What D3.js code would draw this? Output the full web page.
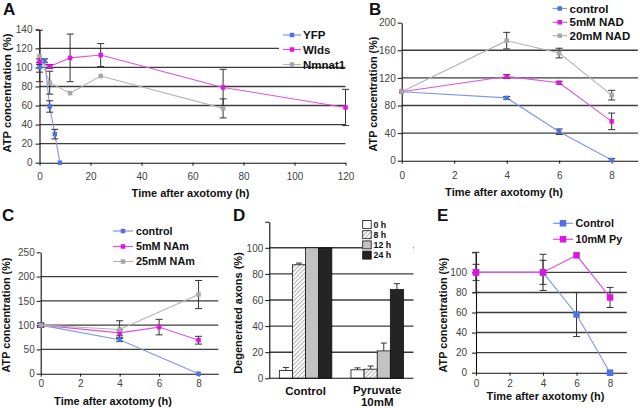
<!DOCTYPE html>
<html><head><meta charset="utf-8">
<script src="https://cdn.jsdelivr.net/npm/d3@7"></script>
<style>body{margin:0;background:#fff}svg{display:block}</style>
</head><body>
<script>
// ---------------- DATA ----------------
// Panel A
const aYFPTimes = [0, 2, 4, 6, 8];
const aYFP = [100, 107, 59, 30, 0];
const aYFPErr = [5, 2, 6, 5, 0];
const aWldsTimes = [0, 4, 12, 24, 72, 120];
const aWlds = [106, 101, 110, 113, 79, 58];
const aWldsErr = [3, 2, 25, 12, 19, 19];
const aNmnatTimes = [0, 4, 12, 24, 72];
const aNmnat = [112, 84, 73, 91, 57];
const aNmnatErr = [27, 12, 0, 0, 10];
const aXTicks = [0, 20, 40, 60, 80, 100, 120];
const aYTicks = [0, 20, 40, 60, 80, 100, 120, 140];

// Panel B
const bTimes = [0, 4, 6, 8];
const bControl = [100, 91, 42, 1];
const bControlErr = [0, 2, 4, 2];
const bNAD5 = [100, 122, 113, 57];
const bNAD5Err = [0, 3, 2, 12];
const bNAD20 = [100, 174, 156, 95];
const bNAD20Err = [0, 12, 7, 7];
const bXTicks = [0, 2, 4, 6, 8];
const bYTicks = [0, 40, 80, 120, 160, 200];

// Panel C
const cControlTimes = [0, 4, 8];
const cControl = [100, 70, 0];
const cControlErr = [4, 4, 0];
const cNAm5Times = [0, 4, 6, 8];
const cNAm5 = [100, 84, 96, 69];
const cNAm5Err = [4, 6, 16, 8];
const cNAm25Times = [0, 4, 8];
const cNAm25 = [100, 91, 163];
const cNAm25Err = [4, 18, 29];
const cXTicks = [0, 2, 4, 6, 8];
const cYTicks = [0, 50, 100, 150, 200, 250];

// Panel D
const dGroups = ["Control", "Pyruvate 10mM"];
const dTimes = ["0 h", "8 h", "12 h", "24 h"];
const dControl = [6, 87, 100, 100];
const dControlErr = [2.3, 1.3, 0, 0];
const dPyruvate = [6.5, 7, 21, 68];
const dPyruvateErr = [1.5, 2.4, 6, 4.5];
const dYTicks = [0, 20, 40, 60, 80, 100, 120];

// Panel E
const eTimes = [0, 4, 6, 8];
const eControl = [100, 100, 58, 0];
const eControlErr = [8, 18, 22, 0];
const ePy = [100, 100, 117, 75];
const ePyErr = [20, 12, 0, 10];
const eXTicks = [0, 2, 4, 6, 8];
const eYTicks = [0, 20, 40, 60, 80, 100, 120];

// ---------------- STYLE ----------------
const FONT = "'Liberation Sans', Arial, Helvetica, sans-serif";
const BLUE = "#4f72e3", BLUE_L = "#7d97ea";
const MAG = "#e014e0", MAG_L = "#e050e0";
const GRAY = "#a6a6a6", GRAY_L = "#b4b4b4";
const GRID = "#3c3c3c";

const svg = d3.select("body").append("svg").attr("width", 640).attr("height", 408)
  .style("font-family", FONT);

const defs = svg.append("defs");
const pat = defs.append("pattern").attr("id", "hatch").attr("patternUnits", "userSpaceOnUse")
  .attr("width", 3).attr("height", 3).attr("patternTransform", "rotate(45)");
pat.append("rect").attr("width", 3).attr("height", 3).attr("fill", "#fff");
pat.append("line").attr("x1", 0).attr("y1", 0).attr("x2", 0).attr("y2", 3)
  .attr("stroke", "#7a7a7a").attr("stroke-width", 1.2);

function styleAxis(sel, fs) {
  sel.select(".domain").attr("stroke", "#111").attr("stroke-width", 1.1);
  sel.selectAll(".tick line").attr("stroke", "#111");
  sel.selectAll(".tick text").attr("fill", "#444").style("font-size", fs + "px").style("font-family", FONT);
}

function label(t, x, y) {
  svg.append("text").attr("x", x).attr("y", y).text(t)
    .style("font-size", "17px").style("font-weight", "bold").attr("fill", "#111");
}
function yTitle(t, cx, cy, fs) {
  svg.append("text").attr("transform", `translate(${cx},${cy}) rotate(-90)`)
    .attr("text-anchor", "middle").attr("dy", "0.35em").text(t)
    .style("font-size", fs + "px").style("font-weight", "bold").attr("fill", "#111");
}
function xTitle(t, cx, by, fs) {
  svg.append("text").attr("x", cx).attr("y", by).attr("text-anchor", "middle").text(t)
    .style("font-size", fs + "px").style("font-weight", "bold").attr("fill", "#111");
}

function linePanel(o) {
  const g = svg.append("g");
  const x = d3.scaleLinear().domain(o.xDomain).range(o.xRange);
  const y = d3.scaleLinear().domain(o.yDomain).range(o.yRange);
  g.selectAll("line.grid").data(o.grid).join("line").attr("class", "grid")
    .attr("x1", o.xRange[0]).attr("x2", o.gridEnd || o.xRange[1])
    .attr("y1", d => y(d)).attr("y2", d => y(d))
    .attr("stroke", GRID).attr("stroke-width", 1.4);
  if (o.legendBg) {
    g.append("rect").attr("x", o.legendBg[0]).attr("y", o.legendBg[1])
      .attr("width", o.legendBg[2]).attr("height", o.legendBg[3]).attr("fill", "#fff");
  }
  const ya = g.append("g").attr("transform", `translate(${o.xRange[0]},0)`)
    .call(d3.axisLeft(y).tickValues(o.yTicks).tickSize(4).tickSizeOuter(0).tickPadding(o.yPad)
      .tickFormat(d => (o.yLabelMax === undefined || d <= o.yLabelMax) ? d : ""));
  styleAxis(ya, o.tickFs);
  const xa = g.append("g").attr("transform", `translate(0,${o.yRange[0]})`)
    .call(d3.axisBottom(x).tickValues(o.xTicks).tickSize(3).tickSizeOuter(0).tickPadding(o.xPad));
  styleAxis(xa, o.tickFs);

  o.series.forEach(s => {
    const pts = s.xs.map((t, i) => ({ t, v: s.ys[i], e: s.err[i] }));
    g.append("path").datum(pts)
      .attr("d", d3.line().x(d => x(d.t)).y(d => y(d.v)))
      .attr("fill", "none").attr("stroke", s.line).attr("stroke-width", 1.1);
    const eb = g.append("g");
    pts.filter(d => d.e > 0).forEach(d => {
      const cx = x(d.t), cw = o.cap;
      eb.append("line").attr("x1", cx).attr("x2", cx).attr("y1", y(d.v - d.e)).attr("y2", y(d.v + d.e));
      eb.append("line").attr("x1", cx - cw).attr("x2", cx + cw).attr("y1", y(d.v + d.e)).attr("y2", y(d.v + d.e));
      eb.append("line").attr("x1", cx - cw).attr("x2", cx + cw).attr("y1", y(d.v - d.e)).attr("y2", y(d.v - d.e));
    });
    eb.selectAll("line").attr("stroke", "#333").attr("stroke-width", 1);
    s.pts = pts;
  });
  o.series.forEach(s => {
    g.selectAll(null).data(s.pts).join("rect")
      .attr("x", d => x(d.t) - o.ms / 2).attr("y", d => y(d.v) - o.ms / 2)
      .attr("width", o.ms).attr("height", o.ms).attr("fill", s.color);
  });
  // legend
  o.series.forEach((s, i) => {
    const ly = o.legend.ys[i];
    g.append("line").attr("x1", o.legend.x0).attr("x2", o.legend.x1).attr("y1", ly).attr("y2", ly)
      .attr("stroke", s.line).attr("stroke-width", 1.2);
    const mx = (o.legend.x0 + o.legend.x1) / 2;
    g.append("rect").attr("x", mx - o.ms / 2).attr("y", ly - o.ms / 2)
      .attr("width", o.ms).attr("height", o.ms).attr("fill", s.color);
    g.append("text").attr("x", o.legend.tx).attr("y", ly).attr("dy", "0.36em").text(s.name)
      .style("font-size", o.legend.fs + "px").style("font-weight", "bold").attr("fill", "#111");
  });
}

// ---------------- PANEL A ----------------
linePanel({
  xDomain: [0, 120], xRange: [39.5, 345.5], yDomain: [0, 140], yRange: [162.7, 29.3],
  grid: [20, 40, 60, 80, 100, 120], xTicks: aXTicks, yTicks: aYTicks,
  yPad: 3, xPad: 7, tickFs: 10, cap: 3.5, ms: 4.5,
  legendBg: [279, 28, 67, 30],
  series: [
    { name: "YFP", xs: aYFPTimes, ys: aYFP, err: aYFPErr, color: BLUE, line: BLUE_L },
    { name: "Wlds", xs: aWldsTimes, ys: aWlds, err: aWldsErr, color: MAG, line: MAG_L },
    { name: "Nmnat1", xs: aNmnatTimes, ys: aNmnat, err: aNmnatErr, color: GRAY, line: GRAY_L }
  ],
  legend: { x0: 283, x1: 301, tx: 303, ys: [35, 49.5, 64.5], fs: 11.5 }
});
label("A", 3, 15);
yTitle("ATP concentration (%)", 7, 93, 11.2);
xTitle("Time after axotomy (h)", 190.5, 197, 11);

// ---------------- PANEL B ----------------
linePanel({
  xDomain: [0, 9], xRange: [401.7, 637.9], yDomain: [0, 200], yRange: [160.7, 22.7],
  grid: [40, 80, 120, 160], xTicks: bXTicks, yTicks: bYTicks,
  yPad: 2, xPad: 8, tickFs: 10, cap: 3.5, ms: 4.5,
  series: [
    { name: "control", xs: bTimes, ys: bControl, err: bControlErr, color: BLUE, line: BLUE_L },
    { name: "5mM NAD", xs: bTimes, ys: bNAD5, err: bNAD5Err, color: MAG, line: MAG_L },
    { name: "20mM NAD", xs: bTimes, ys: bNAD20, err: bNAD20Err, color: GRAY, line: GRAY_L }
  ],
  legend: { x0: 552.5, x1: 567, tx: 569.5, ys: [8.5, 22.3, 35.7], fs: 11.5 }
});
label("B", 369, 15);
yTitle("ATP concentration (%)", 373.5, 94, 10.8);
xTitle("Time after axotomy (h)", 504, 196, 11);

// ---------------- PANEL C ----------------
linePanel({
  xDomain: [0, 9], xRange: [40.7, 218.3], yDomain: [0, 250], yRange: [373.7, 252.3],
  grid: [50, 100, 150, 200], xTicks: cXTicks, yTicks: cYTicks,
  yPad: 2, xPad: 3, tickFs: 10, cap: 3.5, ms: 4.5,
  series: [
    { name: "control", xs: cControlTimes, ys: cControl, err: cControlErr, color: BLUE, line: BLUE_L },
    { name: "5mM NAm", xs: cNAm5Times, ys: cNAm5, err: cNAm5Err, color: MAG, line: MAG_L },
    { name: "25mM NAm", xs: cNAm25Times, ys: cNAm25, err: cNAm25Err, color: GRAY, line: GRAY_L }
  ],
  legend: { x0: 113, x1: 133, tx: 136, ys: [231, 246.5, 261.5], fs: 10.8 }
});
label("C", 2, 221);
yTitle("ATP concentration (%)", 6.5, 315, 10.8);
xTitle("Time after axotomy (h)", 113, 405, 11);

// ---------------- PANEL D ----------------
(function () {
  const g = svg.append("g");
  const x0 = 269.3, xEnd = 413.5;
  const y = d3.scaleLinear().domain([0, 120]).range([378.3, 221.7]);
  const xb = d3.scaleBand().domain(dGroups).range([x0, xEnd]).paddingInner(0.267).paddingOuter(0.14);
  const xi = d3.scaleBand().domain(dTimes).range([0, xb.bandwidth()]);
  const fills = ["#ffffff", "url(#hatch)", "#c2c2c2", "#242424"];
  g.selectAll("line.grid").data([20, 40, 60, 80, 100]).join("line")
    .attr("x1", x0).attr("x2", xEnd).attr("y1", d => y(d)).attr("y2", d => y(d))
    .attr("stroke", GRID).attr("stroke-width", 1.4);
  const rows = [{ g: dGroups[0], v: dControl, e: dControlErr }, { g: dGroups[1], v: dPyruvate, e: dPyruvateErr }];
  rows.forEach(r => {
    dTimes.forEach((t, i) => {
      const bx = xb(r.g) + xi(t), bw = xi.bandwidth();
      if (r.e[i] > 0) {
        const cx = bx + bw / 2;
        g.append("line").attr("x1", cx).attr("x2", cx).attr("y1", y(r.v[i])).attr("y2", y(r.v[i] + r.e[i]))
          .attr("stroke", "#333");
        g.append("line").attr("x1", cx - 3).attr("x2", cx + 3).attr("y1", y(r.v[i] + r.e[i])).attr("y2", y(r.v[i] + r.e[i]))
          .attr("stroke", "#333");
      }
      g.append("rect").attr("x", bx).attr("y", y(r.v[i])).attr("width", bw).attr("height", y(0) - y(r.v[i]))
        .attr("fill", fills[i]).attr("stroke", "#111").attr("stroke-width", 0.8);
    });
  });
  const ya = g.append("g").attr("transform", `translate(${x0},0)`)
    .call(d3.axisLeft(y).tickValues(dYTicks).tickSize(4).tickSizeOuter(0).tickPadding(2)
      .tickFormat(d => d <= 100 ? d : ""));
  styleAxis(ya, 10);
  g.append("line").attr("x1", x0).attr("x2", xEnd).attr("y1", y(0)).attr("y2", y(0))
    .attr("stroke", "#111").attr("stroke-width", 1.1);
  // legend
  g.append("rect").attr("x", 362).attr("y", 219.5).attr("width", 51).attr("height", 42).attr("fill", "#fff");
  dTimes.forEach((t, i) => {
    const ly = 220.5 + i * 10.2;
    g.append("rect").attr("x", 362.7).attr("y", ly).attr("width", 8.5).attr("height", 8)
      .attr("fill", fills[i]).attr("stroke", "#111").attr("stroke-width", 0.8);
    g.append("text").attr("x", 373.5).attr("y", ly + 4).attr("dy", "0.36em").text(t)
      .style("font-size", "8.8px").style("font-weight", "bold").attr("fill", "#111");
  });
  // category labels
  const c0 = xb(dGroups[0]) + xb.bandwidth() / 2, c1 = xb(dGroups[1]) + xb.bandwidth() / 2;
  g.append("text").attr("x", c0).attr("y", 395).attr("text-anchor", "middle").text("Control")
    .style("font-size", "11.5px").style("font-weight", "bold").attr("fill", "#111");
  g.append("text").attr("x", c1).attr("y", 394).attr("text-anchor", "middle").text("Pyruvate")
    .style("font-size", "11.5px").style("font-weight", "bold").attr("fill", "#111");
  g.append("text").attr("x", c1).attr("y", 406).attr("text-anchor", "middle").text("10mM")
    .style("font-size", "11.5px").style("font-weight", "bold").attr("fill", "#111");
})();
label("D", 233, 221);
yTitle("Degenerated axons (%)", 238.5, 313, 11);

// ---------------- PANEL E ----------------
linePanel({
  xDomain: [0, 9], xRange: [476, 626.8], yDomain: [0, 120], yRange: [372.7, 252.3],
  grid: [20, 40, 60, 80, 100], xTicks: eXTicks, yTicks: eYTicks, yLabelMax: 100,
  yPad: 5, xPad: 4, tickFs: 10, cap: 3.5, ms: 6.5,
  series: [
    { name: "Control", xs: eTimes, ys: eControl, err: eControlErr, color: BLUE, line: BLUE_L },
    { name: "10mM Py", xs: eTimes, ys: ePy, err: ePyErr, color: MAG, line: MAG_L }
  ],
  legend: { x0: 553, x1: 573, tx: 575.5, ys: [223.3, 239.3], fs: 10.8 }
});
label("E", 437, 221);
yTitle("ATP concentration (%)", 443, 315, 10.8);
xTitle("Time after axotomy (h)", 545.5, 400, 11);
</script>
</body></html>
